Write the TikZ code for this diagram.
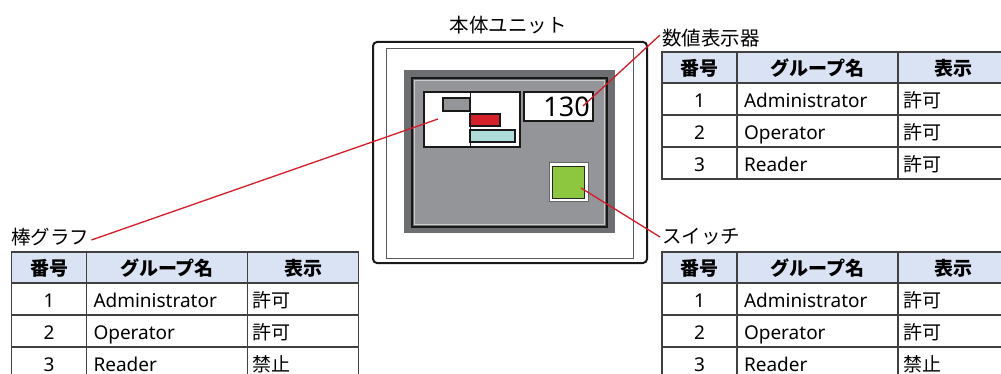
\documentclass[tikz,border=0pt]{standalone}
\usepackage{fontspec}
\setmainfont{Noto Sans}
\newfontfamily\jp{Noto Sans CJK JP}
\usetikzlibrary{positioning}

\definecolor{hdrblue}{HTML}{DAE3F3}
\definecolor{tblline}{HTML}{404040}
\definecolor{bezel}{HTML}{6D6E71}
\definecolor{screen}{HTML}{939598}
\definecolor{barred}{HTML}{D7212A}
\definecolor{barcyan}{HTML}{AEDCD8}
\definecolor{swgreen}{HTML}{8DC63F}
\definecolor{callred}{HTML}{D71A28}

\tikzset{
  cell/.style={draw=tblline, line width=1.2pt, inner sep=0pt, outer sep=0pt,
               minimum height=32pt, text height=16.5pt, text depth=0pt,
               anchor=north west, font=\fontsize{19}{21}\selectfont},
  hcell/.style={cell, fill=hdrblue, minimum height=31pt, font=\fontsize{19}{21}\selectfont\bfseries},
  c1/.style={minimum width=75pt, align=center},
  c2/.style={inner xsep=7pt, text width=147pt, align=left},
  c3/.style={inner xsep=5pt, text width=101pt, align=left},
  hc2/.style={minimum width=161pt, align=center},
  hc3/.style={minimum width=111pt, align=center},
  lbl/.style={inner sep=2pt, font=\fontsize{19.5}{22}\selectfont\jp},
  callout/.style={draw=callred, line width=1.3pt},
  part/.style={draw=black!90, line width=1.3pt},
}

% table of permissions: #1 name, #2 x, #3 y, #4 permission of Reader
\newcommand\permtable[4]{%
  \node[hcell, c1] (#1-h1) at (#2,#3) {\jp 番号};
  \node[hcell, hc2] (#1-h2) at (#1-h1.north east) {\jp グループ名};
  \node[hcell, hc3] (#1-h3) at (#1-h2.north east) {\jp 表示};
  \foreach \r/\g/\p in {1/Administrator/許可, 2/Operator/許可, 3/Reader/#4} {
    \node[cell, c1] (#1-\r-1) at (#2,{#3+31+(\r-1)*32}) {\r};
    \node[cell, c2] (#1-\r-2) at (#1-\r-1.north east) {\g};
    \node[cell, c3] (#1-\r-3) at (#1-\r-2.north east) {\jp\p};
  }
}

\begin{document}
\begin{tikzpicture}[x=1pt, y=-1pt]
\useasboundingbox (0,0) rectangle (1001,374);
\clip (0,0) rectangle (1001,374);

%% ---------- main unit ----------
\node[lbl] (lblunit) at (508,25) {本体ユニット};
\draw[black!90, line width=2pt, fill=white, rounded corners=4pt] (373,42) rectangle (647,263);
\draw[black!65, line width=0.8pt] (386,48) rectangle (633,258);
\fill[bezel] (404,70) rectangle (615,233);
\draw[black!90, line width=1.2pt] (412,78) rectangle (607,227);
\draw[black!20, line width=1pt, fill=screen] (414.5,80.5) rectangle (604.5,224.5);

% bar graph
\draw[part, fill=white] (424,92) rectangle (520,147);
\draw[black!90, line width=1pt] (470,92) -- (470,147);
\draw[part, fill=screen] (443,98) rectangle (470,111);
\draw[part, fill=barred] (470,114) rectangle (500,126);
\draw[part, fill=barcyan] (470,130) rectangle (515,142);
\coordinate (barpt) at (438,119);

% numeric display
\node[part, fill=white, anchor=north west, minimum width=69pt, minimum height=29pt,
      inner sep=0pt, outer sep=0pt] (numdisp) at (524,92) {};
\node[anchor=east, inner sep=0pt, font=\fontsize{27}{28}\selectfont] (numval)
  at ([xshift=-3pt]numdisp.east) {130};
\coordinate (numpt) at (583,106);

% switch
\draw[black!60, line width=1pt, fill=white] (549,163) rectangle (588,202);
\draw[black!85, line width=1pt, fill=swgreen] (552.5,166.5) rectangle (584.5,198.5);
\coordinate (swpt) at (581,188);

%% ---------- labels and callouts ----------
\node[lbl, anchor=west] (lblbar) at (9,237) {棒グラフ};
\node[lbl, anchor=west] (lblnum) at (660,38) {数値表示器};
\node[lbl, anchor=west] (lblsw) at (660,237) {スイッチ};

\draw[callout] (barpt) -- ([yshift=-3pt]lblbar.east);
\draw[callout] (numpt) -- ([yshift=3pt]lblnum.west);
\draw[callout] (swpt) -- (lblsw.west);

%% ---------- tables ----------
\permtable{tbar}{11.5}{252}{禁止}
\permtable{tnum}{662}{52}{許可}
\permtable{tsw}{662}{252}{禁止}

\end{tikzpicture}
\end{document}
